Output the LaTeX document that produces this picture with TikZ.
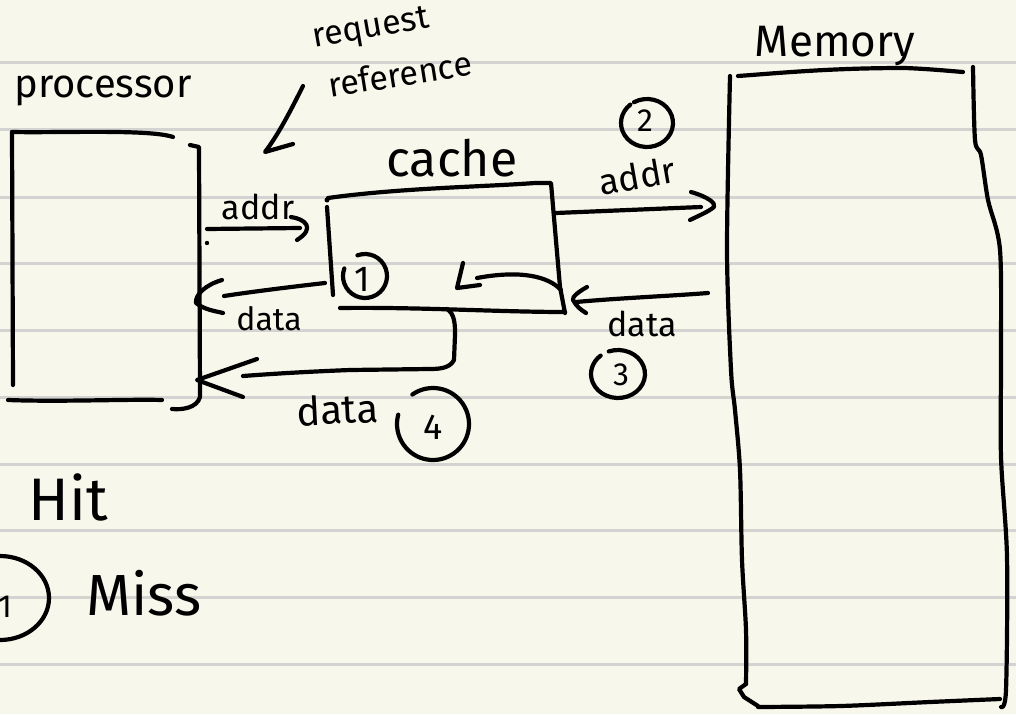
\documentclass[tikz,border=0pt]{standalone}
\usepackage{fontspec}
\setmainfont{Fira Sans}
\definecolor{paper}{HTML}{F8F7EB}
\definecolor{ruling}{HTML}{D3D3D1}
\begin{document}
\begin{tikzpicture}[x=1pt,y=-1pt,
  ink/.style={line width=4.2pt, line cap=round, line join=round, black},
  note/.style={inner sep=0pt, font=\fontsize{#1}{#1}\selectfont},
  num/.style={inner sep=0pt, font=\fontsize{#1}{#1}\selectfont}]
% paper
\fill[paper] (0,0) rectangle (1016,714);
\useasboundingbox (0,0) rectangle (1016,714);
\clip (0,0) rectangle (1016,714);
\foreach \y in {63,130,197,263.5,330,397,464,530.5,597,664}
  \draw[ruling, line width=3pt] (0,\y) -- (1016,\y);

% ---------- labels ----------
\node[note=34, rotate=10] (req) at (371,30) {request};
\node[note=34, rotate=9] (ref) at (400,74) {reference};
\node[note=40, anchor=base] (proc) at (103,98) {processor};
\node[note=50, anchor=base] (cachelbl) at (452,176) {cache};
\node[note=34, anchor=base] (addrA) at (258,219) {addr};
\node[note=36, rotate=10] (addrB) at (637,176) {addr};
\node[note=32, anchor=base] (dataA) at (269,330) {data};
\node[note=34, anchor=base] (dataB) at (642,336) {data};
\node[note=40, anchor=base, rotate=3] (dataC) at (338,424) {data};
\node[note=44, anchor=base] (memlbl) at (835,57) {Memory};
\node[note=60, anchor=base] (hit) at (68,520) {Hit};
\node[note=58, anchor=base] (miss) at (144,615) {Miss};

% ---------- step numbers ----------
\node[num=36] (n1) at (362,279) {1};
\node[num=32] (n2) at (645,121) {2};
\node[num=32] (n3) at (621,375) {3};
\node[num=36] (n4) at (433,427) {4};
\node[num=32] (n1b) at (5,607) {1};
\draw[ink] (365,276) ++(250:22) arc[start angle=250, end angle=560, radius=22];
\draw[ink] (647,123) ++({26*cos(240)},{24*sin(240)}) arc[start angle=240, end angle=590, x radius=26, y radius=24];
\draw[ink] (618,374) ++({27*cos(250)},{24*sin(250)}) arc[start angle=250, end angle=590, x radius=27, y radius=24];
\draw[ink] (433,424) ++({36*cos(235)},{36*sin(235)}) arc[start angle=235, end angle=555, x radius=36, y radius=36];
\draw[ink] (0,598) ellipse[x radius=49, y radius=42];

% ---------- processor ----------
\draw[ink] (12,132) .. controls (60,133) and (150,129) .. (173,137);
\draw[ink] (12,132) -- (13,385);
\draw[ink] (8,400) .. controls (60,402) and (130,399) .. (162,400);
\draw[ink] (190,145) -- (199,147) -- (200,397) .. controls (197,408) and (182,410) .. (172,409);

% ---------- cache ----------
\draw[ink] (328,198) .. controls (400,188) and (480,187) .. (535,183) -- (551,183) -- (560,287) -- (565,313);
\draw[ink] (327,207) -- (333,295);
\fill (327,200) circle[radius=2.5pt];
\draw[ink] (340,308) .. controls (420,307) and (500,312) .. (565,312);

% ---------- memory ----------
\draw[ink] (738,76) .. controls (780,73) and (830,68) .. (905,68) .. controls (930,69) and (950,71) .. (963,72);
\draw[ink] plot[smooth, tension=0.5] coordinates {(730,76) (727,250) (731,370) (735,410) (740,470) (742,560) (746,630) (746,684)};
\draw[ink] (746,684) -- (739,689) -- (744,697) -- (758,706);
\draw[ink] plot[smooth, tension=0.5] coordinates {(973,67) (975,140) (981,155) (988,200) (1000,250) (1001,357) (1001,457) (1007,557) (1006,690) (1001,707)};
\draw[ink] plot[smooth, tension=0.5] coordinates {(758,707) (841,706) (930,702) (1000,699)};

% ---------- connectors ----------
% request reference pointer
\coordinate (reqTail) at (303,86);
\coordinate (reqTip) at (265,152);
\draw[ink] (reqTail) .. controls (290,112) and (278,135) .. (reqTip) -- (293,144);

% addr: processor -> cache
\coordinate (pOut) at (207,229);
\coordinate (cIn) at (300,228);
\fill (207,243) circle[radius=2.2pt];
\draw[ink] (pOut) -- (cIn);
\draw[ink] (291,217) .. controls (305,219) and (316,228) .. (297,240);

% data: cache -> processor (hit)
\coordinate (cOut) at (325,283);
\coordinate (pIn) at (224,296);
\draw[ink] (cOut) .. controls (290,287) and (250,292) .. (pIn);
\draw[ink] (222,280) .. controls (205,285) and (195,295) .. (196,303) .. controls (205,310) and (215,311) .. (223,313);

% addr: cache -> memory
\coordinate (cOut2) at (556,213);
\coordinate (mIn) at (701,207);
\draw[ink] (cOut2) -- (mIn);
\draw[ink] (691,192) .. controls (708,197) and (716,203) .. (714,207) .. controls (708,212) and (698,216) .. (690,220);

% data: memory -> cache
\coordinate (mOut) at (708,293);
\coordinate (cIn2) at (576,302);
\draw[ink] (mOut) .. controls (670,296) and (620,298) .. (cIn2);
\draw[ink] (587,287) .. controls (578,292) and (572,297) .. (573,300) .. controls (576,306) and (581,310) .. (586,313);

% fill into the cache
\coordinate (fillFrom) at (561,290);
\coordinate (fillTo) at (477,278);
\draw[ink] (fillFrom) .. controls (548,276) and (520,270) .. (fillTo);
\draw[ink] (463,263) -- (457,288) -- (480,285);

% data: cache -> processor (after miss)
\coordinate (cBot) at (447,309);
\coordinate (pIn2) at (243,376);
\draw[ink] (cBot) .. controls (455,314) and (455,325) .. (455,335) -- (454,360) .. controls (450,368) and (440,369) .. (430,369) -- (350,370) .. controls (300,372) and (270,374) .. (pIn2);
\draw[ink] (257,359) -- (197,380) -- (243,397);
\end{tikzpicture}
\end{document}
